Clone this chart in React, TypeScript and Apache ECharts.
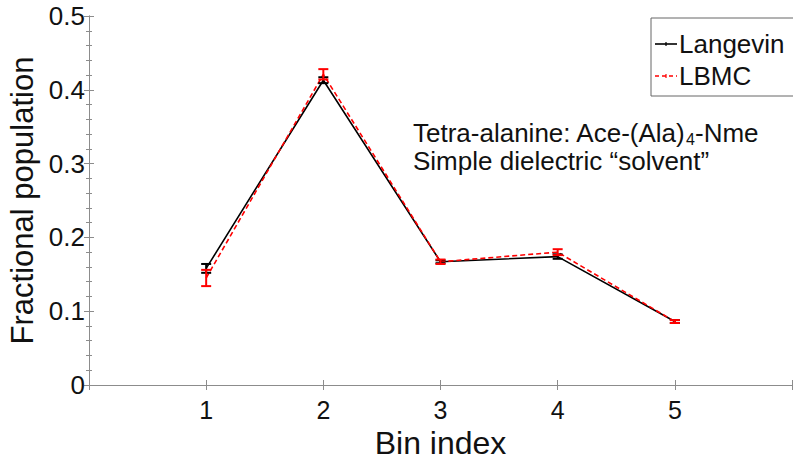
import React, { useEffect, useRef } from "react";
import * as echarts from "echarts";

const bins = [1, 2, 3, 4, 5];
const langevin = [0.158, 0.413, 0.167, 0.174, 0.086];
const langevinErr = [0.006, 0.004, 0.002, 0.003, 0.002];
const lbmc = [0.145, 0.421, 0.167, 0.18, 0.086];
const lbmcErr = [0.011, 0.007, 0.003, 0.004, 0.002];
const yTicks = [0, 0.1, 0.2, 0.3, 0.4, 0.5];
const xTickLabels = ["1", "2", "3", "4", "5"];
const legendNames = ["Langevin", "LBMC"];

const FONT = "Liberation Sans, Arial, sans-serif";
const AXIS_COLOR = "#8c8c8c";

function errData(vals: number[], errs: number[]) {
  return bins.map((b, i) => [b, vals[i], vals[i] - errs[i], vals[i] + errs[i]]);
}

function errSeries(name: string, vals: number[], errs: number[], color: string) {
  return {
    type: "custom",
    name: name + "-err",
    data: errData(vals, errs),
    z: 5,
    renderItem: (params: any, api: any) => {
      const x = api.value(0);
      const lo = api.coord([x, api.value(2)]);
      const hi = api.coord([x, api.value(3)]);
      const w = 5;
      const style = { stroke: color, lineWidth: 2 };
      return {
        type: "group",
        children: [
          { type: "line", shape: { x1: lo[0], y1: lo[1], x2: hi[0], y2: hi[1] }, style },
          { type: "line", shape: { x1: lo[0] - w, y1: lo[1], x2: lo[0] + w, y2: lo[1] }, style },
          { type: "line", shape: { x1: hi[0] - w, y1: hi[1], x2: hi[0] + w, y2: hi[1] }, style },
        ],
      };
    },
  };
}

export default function App() {
  const ref = useRef<HTMLDivElement>(null);
  useEffect(() => {
    if (!ref.current) return;
    const chart = echarts.init(ref.current, undefined, { renderer: "svg" });
    const xAxisBase = {
      type: "value",
      min: 0,
      max: 6,
      interval: 1,
      axisLine: { show: true, lineStyle: { color: AXIS_COLOR, width: 1 } },
      axisTick: { show: true, inside: true, length: 5, lineStyle: { color: AXIS_COLOR } },
      splitLine: { show: false },
    };
    const yAxisBase = {
      type: "value",
      min: 0,
      max: 0.5,
      interval: 0.1,
      axisLine: { show: true, lineStyle: { color: AXIS_COLOR, width: 1 } },
      axisTick: { show: true, inside: true, length: 5, lineStyle: { color: AXIS_COLOR } },
      minorTick: { show: true, splitNumber: 5, length: 3, lineStyle: { color: AXIS_COLOR } },
      splitLine: { show: false },
    };
    const legendX = 651;
    const legendY = 18;
    chart.setOption({
      animation: false,
      backgroundColor: "#ffffff",
      grid: { left: 89, right: 1, top: 16, bottom: 75, outerBoundsMode: "none", containLabel: false },
      xAxis: [
        {
          ...xAxisBase,
          position: "bottom",
          name: "Bin index",
          nameLocation: "middle",
          nameGap: 35,
          nameTextStyle: { fontFamily: FONT, fontSize: 32, color: "#111" },
          axisLabel: {
            fontFamily: FONT,
            fontSize: 25,
            color: "#111",
            margin: 12,
            formatter: (v: number) => {
              const i = bins.indexOf(v);
              return i >= 0 ? xTickLabels[i] : "";
            },
          },
        },
        { ...xAxisBase, position: "top", axisLabel: { show: false } },
      ],
      yAxis: [
        {
          ...yAxisBase,
          position: "left",
          name: "Fractional population",
          nameLocation: "middle",
          nameGap: 47,
          nameTextStyle: { fontFamily: FONT, fontSize: 31, color: "#111" },
          axisLabel: {
            fontFamily: FONT,
            fontSize: 26,
            color: "#111",
            margin: 4,
            formatter: (v: number) => {
              const t = yTicks.find((k) => Math.abs(k - v) < 1e-9);
              return t === undefined ? "" : t === 0 ? "0" : t.toFixed(1);
            },
          },
        },
        { ...yAxisBase, position: "right", axisLabel: { show: false } },
      ],
      graphic: [
        {
          type: "text",
          left: 413,
          top: 120,
          style: {
            text: "{a|Tetra-alanine: Ace-(Ala)}{s|4}{a|-Nme}\n{a|Simple dielectric “solvent”}",
            rich: {
              a: { fontFamily: FONT, fontSize: 26, fill: "#111", lineHeight: 28 },
              s: { fontFamily: FONT, fontSize: 16, fill: "#111", lineHeight: 20, verticalAlign: "bottom", padding: [6, 0, 0, 0] },
            },
          },
        },
        {
          type: "rect",
          shape: { x: legendX, y: legendY, width: 160, height: 78 },
          style: { fill: "#fff", stroke: "#666", lineWidth: 1 },
          z: 50,
        },
        {
          type: "line",
          shape: { x1: legendX + 4, y1: 44, x2: legendX + 26, y2: 44 },
          style: { stroke: "#000", lineWidth: 1.6 },
          z: 51,
        },
        {
          type: "line",
          shape: { x1: legendX + 15, y1: 42, x2: legendX + 15, y2: 46 },
          style: { stroke: "#000", lineWidth: 1.2 },
          z: 51,
        },
        {
          type: "text",
          x: legendX + 28,
          y: 44,
          style: { text: legendNames[0], fontFamily: FONT, fontSize: 26, fill: "#111", verticalAlign: "middle" },
          z: 51,
        },
        {
          type: "line",
          shape: { x1: legendX + 4, y1: 76, x2: legendX + 26, y2: 76 },
          style: { stroke: "#ff0000", lineWidth: 1.6, lineDash: [4, 3] },
          z: 51,
        },
        {
          type: "line",
          shape: { x1: legendX + 15, y1: 74, x2: legendX + 15, y2: 78 },
          style: { stroke: "#ff0000", lineWidth: 1.2 },
          z: 51,
        },
        {
          type: "text",
          x: legendX + 28,
          y: 76,
          style: { text: legendNames[1], fontFamily: FONT, fontSize: 26, fill: "#111", verticalAlign: "middle" },
          z: 51,
        },
      ],
      series: [
        {
          type: "line",
          name: "Langevin",
          data: bins.map((b, i) => [b, langevin[i]]),
          symbol: "none",
          lineStyle: { color: "#000", width: 1.6 },
          itemStyle: { color: "#000" },
          z: 3,
        },
        {
          type: "line",
          name: "LBMC",
          data: bins.map((b, i) => [b, lbmc[i]]),
          symbol: "none",
          lineStyle: { color: "#ff0000", width: 1.6, type: [5, 3] },
          itemStyle: { color: "#ff0000" },
          z: 4,
        },
        errSeries("Langevin", langevin, langevinErr, "#000"),
        errSeries("LBMC", lbmc, lbmcErr, "#ff0000"),
      ],
    });
    return () => chart.dispose();
  }, []);
  return (
    <div
      ref={ref}
      style={{ position: "fixed", left: 0, top: 0, width: 793, height: 460, background: "#fff" }}
    />
  );
}
